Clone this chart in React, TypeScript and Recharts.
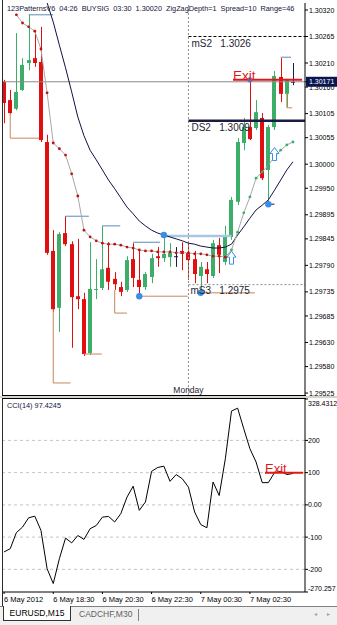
import React from "react";
import {
    ComposedChart,
    Bar,
    Line,
    XAxis,
    YAxis,
    ReferenceLine,
    ReferenceDot,
} from "recharts";

// EURUSD M15, bars from 6 May 16:30 to 7 May 04:15
const opens = [
    1.30171, 1.30133, 1.30115, 1.30154, 1.3021, 1.3022, 1.30212, 1.30046, 1.2982, 1.29702,
    1.29857, 1.29834, 1.29726, 1.2972, 1.29608, 1.29739, 1.29743, 1.29785, 1.29762, 1.29745,
    1.29739, 1.29803, 1.2976, 1.29745, 1.29766, 1.29809, 1.29805, 1.29807, 1.29809, 1.2982,
    1.29816, 1.29803, 1.29768, 1.29782, 1.29768, 1.29832, 1.29797, 1.29849, 1.29922, 1.30044,
    1.30077, 1.30075, 1.30096, 1.29988, 1.30077, 1.30181, 1.30146, 1.30171,
];
const highs = [
    1.30175, 1.30154, 1.30272, 1.3022, 1.3031, 1.30278, 1.30285, 1.30061, 1.29863, 1.29859,
    1.29892, 1.2984, 1.29845, 1.29733, 1.29838, 1.29803, 1.29872, 1.29838, 1.29776, 1.29756,
    1.29809, 1.29836, 1.29822, 1.29776, 1.29814, 1.29828, 1.29853, 1.29836, 1.29828, 1.29838,
    1.29836, 1.2982, 1.29797, 1.29797, 1.29843, 1.29847, 1.29872, 1.29932, 1.30054, 1.30096,
    1.30175, 1.30133, 1.30106, 1.30081, 1.30193, 1.3022, 1.30177, 1.3021,
];
const lows = [
    1.30085, 1.30104, 1.30112, 1.30152, 1.30195, 1.30202, 1.30046, 1.29812, 1.29693, 1.29652,
    1.2983, 1.29619, 1.29699, 1.29602, 1.29604, 1.2972, 1.29739, 1.29739, 1.29739, 1.29726,
    1.29735, 1.29745, 1.29726, 1.29739, 1.29753, 1.29787, 1.29797, 1.29787, 1.29787, 1.2978,
    1.2976, 1.29753, 1.29733, 1.29753, 1.29764, 1.29774, 1.29791, 1.29843, 1.29915, 1.30029,
    1.3005, 1.30071, 1.29967, 1.29917, 1.30071, 1.30129, 1.30119, 1.30164,
];
const closes = [
    1.30127, 1.30106, 1.3015, 1.30206, 1.30216, 1.3021, 1.3005, 1.29816, 1.29699, 1.29855,
    1.29834, 1.29724, 1.2972, 1.29606, 1.29741, 1.29741, 1.29782, 1.29756, 1.29751, 1.29735,
    1.29801, 1.29764, 1.29745, 1.29772, 1.29805, 1.29805, 1.29814, 1.29816, 1.29809, 1.29814,
    1.29801, 1.29772, 1.29787, 1.29772, 1.29836, 1.29812, 1.29849, 1.29926, 1.30046, 1.30077,
    1.30052, 1.30108, 1.29971, 1.30077, 1.30183, 1.30146, 1.30177, 1.30171,
];

// moving average (dark line)
const maValues = [
    null, null, null, null, null, null, 1.30377, 1.30335, 1.30295, 1.30247,
    1.302, 1.3015, 1.30098, 1.30059, 1.30029, 1.30009, 1.29988, 1.29967, 1.29949, 1.2993,
    1.29911, 1.29897, 1.29882, 1.29872, 1.29863, 1.29857, 1.29853, 1.29849, 1.29845, 1.29841,
    1.29836, 1.29834, 1.2983, 1.29828, 1.29826, 1.29826, 1.29828, 1.29834, 1.29853, 1.2987,
    1.29888, 1.29905, 1.29915, 1.29926, 1.29946, 1.29967, 1.29988, 1.30005,
];

// trailing stop line with dots (d = above price, u = below price)
const trailValues = [
    null, null, 1.3031, 1.30293, 1.30285, 1.30276, 1.30239, 1.30148, 1.30044, 1.30032,
    1.30019, 1.2998, 1.29934, 1.29863, 1.29849, 1.29841, 1.29836, 1.29834, 1.29834, 1.29832,
    1.29828, 1.29826, 1.29822, 1.2982, 1.2982, 1.29818, 1.29818, 1.29818, 1.29816, 1.29816,
    1.29816, 1.29814, 1.29814, 1.29812, 1.29809, 1.29809, 1.29807, 1.29822, 1.29859, 1.29899,
    1.29932, 1.29971, 1.29984, 1.29998, 1.30015, 1.30029, 1.3004, 1.30046,
];
const trailSide = "--ddddddddddddddddddddddddddddddddddduuuuuuuuuuu".split("");

// CCI(14)
const cciValues = [
    -146, -136, -86, -69, -40, -35, -79, -198, -244, -167,
    -103, -118, -95, -107, -74, -64, -38, -36, -53, -27,
    24, 58, -17, 9, 104, 116, 120, 73, 94, 81,
    55, -22, -61, -71, 71, 29, 143, 291, 300, 236,
    174, 133, 69, 69, 100, 104, 94, 97.4245,
];

const priceTicks = [
    1.3032, 1.30265, 1.3021, 1.3016, 1.30105, 1.30055, 1.3, 1.2995,
    1.29895, 1.29845, 1.2979, 1.29735, 1.29685, 1.2963, 1.2958, 1.29525,
];
const bidPrice = 1.30171;
const timeTickIdx = [0, 8, 16, 24, 32, 40];
const timeTickText = ["6 May 2012", "6 May 18:30", "6 May 20:30", "6 May 22:30", "7 May 00:30", "7 May 02:30"];
const cciTicks = [328.4312, 200, 100, 0, -100, -200, -270.257];
const cciTickText = ["328.4312", "200", "100", "0.00", "-100", "-200", "-270.257"];
const cciGrid = [200, 100, 0, -100, -200];

// pattern levels
const mondayIdx = 30;
const levelStart = 30;
const mS2 = 1.30265;
const DS2 = 1.3009;
const mS3 = 1.2975;
const exitPrice = 1.30175;
const exitFrom = 37.25;
const exitTo = 48.48;
const exitCci = 100;
const exitCciFrom = 42.45;
const exitCciTo = 48.64;

// zigzag brackets [x1, y1, x2, y2]
const brownSegs = [
    [1, 1.30106, 1, 1.30054], [1, 1.30054, 5.7, 1.30054],
    [8, 1.29699, 8, 1.29546], [8, 1.29546, 10.8, 1.29546],
    [13, 1.29606, 15.9, 1.29606],
    [18, 1.29739, 18, 1.29691], [18, 1.29691, 20, 1.29691],
    [22, 1.29726, 29.9, 1.29726],
    [32, 1.29733, 40.8, 1.29733],
    [46, 1.30146, 46, 1.30117], [46, 1.30117, 46.9, 1.30117],
];
const blueSegs = [
    [4, 1.3031, 8, 1.3031],
    [10, 1.29892, 13.8, 1.29892],
    [16, 1.29872, 18.9, 1.29872],
    [21, 1.29838, 25.4, 1.29838],
    [45, 1.30222, 46.7, 1.30222],
];
const lightBlueSegs = [[26, 1.29851, 37, 1.29851]];
const navySegs = [[43, 1.29917, 44, 1.29917]];
const swingDots = [[22, 1.29726], [26, 1.29853], [32, 1.29733], [43, 1.29917]];
const exitDot = [40, 1.30175];
const buyArrows = [[37, 1.29805], [44, 1.3002]];

const X_DOMAIN = [-0.174, 48.96];
const GREEN = "#3cae6a";
const RED = "#e01010";
const DOJI = "#1a1a50";
const FONT = "'Liberation Sans', Arial, sans-serif";

const rows = opens.map((o, i) => ({
    i,
    o,
    h: highs[i],
    l: lows[i],
    c: closes[i],
    range: [lows[i], highs[i]],
    ma: maValues[i],
    trail: trailValues[i],
    side: trailSide[i],
    cci: cciValues[i],
}));

const Candle = (props: any) => {
    const { x, y, width, height, payload } = props;
    if (x == null || y == null) return <g />;
    const top = Math.min(y, y + height);
    const bot = Math.max(y, y + height);
    const span = payload.h - payload.l;
    const k = span > 0 ? (bot - top) / span : 0;
    const yo = top + (payload.h - payload.o) * k;
    const yc = top + (payload.h - payload.c) * k;
    const cx = Math.round(x + width / 2) + 0.5;
    const color = payload.c > payload.o ? GREEN : payload.c < payload.o ? RED : DOJI;
    const bt = Math.min(yo, yc);
    const bh = Math.max(1, Math.abs(yc - yo));
    return (
        <g>
            <line x1={cx} x2={cx} y1={top} y2={bot} stroke={color} strokeWidth={1} />
            <rect x={cx - 2.5} y={bt} width={4} height={bh} fill={color} />
        </g>
    );
};

const TrailDot = (props: any) => {
    const { cx, cy, payload, index } = props;
    if (payload.trail == null || cx == null || cy == null) return <g key={"td" + index} />;
    return (
        <circle
            key={"td" + index}
            cx={cx}
            cy={cy}
            r={1.4}
            fill={payload.side === "u" ? "#3cae6a" : "#c01010"}
        />
    );
};

const PriceTick = (props: any) => {
    const { x, y, payload } = props;
    const v = payload.value;
    const label = v.toFixed(5);
    if (v === bidPrice) {
        return (
            <g>
                <rect x={x - 3} y={y - 5} width={35} height={10} fill="#0a1650" />
                <text x={x} y={y + 2.6} fontSize={7} fill="#fff">
                    {label}
                </text>
            </g>
        );
    }
    return (
        <text x={x} y={y + 2.6} fontSize={7} fill="#000">
            {label}
        </text>
    );
};

const CciTick = (props: any) => {
    const { x, y, payload } = props;
    const k = cciTicks.indexOf(payload.value);
    let dy = 2.6;
    if (k === 0) dy = 7;
    if (k === cciTicks.length - 1) dy = -1.5;
    return (
        <text x={x - 1} y={y + dy} fontSize={7} fill="#000">
            {cciTickText[k]}
        </text>
    );
};

const TimeTick = (props: any) => {
    const { x, y, payload } = props;
    const k = timeTickIdx.indexOf(payload.value);
    return (
        <text x={x} y={y + 6} fontSize={7.5} fill="#000">
            {timeTickText[k]}
        </text>
    );
};

const UpArrow = (props: any) => {
    const { cx, cy } = props;
    const d = `M${cx} ${cy - 7} L${cx + 4.5} ${cy - 1} L${cx + 2} ${cy - 1} L${cx + 2} ${cy + 6} L${cx - 2} ${cy + 6} L${cx - 2} ${cy - 1} L${cx - 4.5} ${cy - 1} Z`;
    return <path d={d} fill="#ffffff" stroke="#3a8ee6" strokeWidth={1} />;
};

const segLine = (s: number[], key: string, stroke: string, width = 1) => (
    <ReferenceLine
        key={key}
        segment={[{ x: s[0], y: s[1] }, { x: s[2], y: s[3] }]}
        stroke={stroke}
        strokeWidth={width}
        ifOverflow="visible"
    />
);

const levelLabel = { fontSize: 10, fill: "#1e1e32" };

export default function App() {
    return (
        <div
            style={{
                position: "absolute",
                left: 0,
                top: 0,
                width: 337,
                height: 625,
                background: "#fff",
                fontFamily: FONT,
                overflow: "hidden",
            }}
        >
            {/* main price window */}
            <div style={{ position: "absolute", left: 0, top: 0 }}>
                <ComposedChart
                    width={337}
                    height={396}
                    data={rows}
                    margin={{ top: 3, right: 0, bottom: 1, left: 3 }}
                >
                    <XAxis dataKey="i" type="number" domain={X_DOMAIN} allowDataOverflow hide />
                    <YAxis
                        orientation="right"
                        width={32}
                        domain={[1.29521, 1.303345]}
                        allowDataOverflow
                        ticks={[...priceTicks, bidPrice]}
                        interval={0}
                        tick={<PriceTick />}
                        tickSize={3}
                        tickMargin={1}
                        tickLine={{ stroke: "#000" }}
                        axisLine={{ stroke: "#000" }}
                    />
                    <ReferenceLine
                        x={mondayIdx}
                        stroke="#8c8c8c"
                        strokeDasharray="2 2"
                        label={{ value: "Monday", position: "insideBottom", offset: 2, fontSize: 8.5, fill: "#1e1e32" }}
                    />
                    <ReferenceLine y={bidPrice} stroke="#8a8a8a" />
                    <ReferenceLine
                        segment={[{ x: levelStart, y: mS2 }, { x: X_DOMAIN[1], y: mS2 }]}
                        stroke="#000"
                        strokeDasharray="3 2"
                        label={{ value: "mS2\u00a0\u00a0\u00a01.3026", position: "insideTopLeft", offset: 3, ...levelLabel }}
                    />
                    <ReferenceLine
                        segment={[{ x: levelStart, y: DS2 }, { x: X_DOMAIN[1], y: DS2 }]}
                        stroke="#1c1c40"
                        strokeWidth={2.5}
                        label={{ value: "DS2\u00a0\u00a0\u00a01.3009", position: "insideTopLeft", offset: 3, ...levelLabel }}
                    />
                    <ReferenceLine
                        segment={[{ x: levelStart, y: mS3 }, { x: X_DOMAIN[1], y: mS3 }]}
                        stroke="#8c8c8c"
                        strokeDasharray="2 2"
                        label={{ value: "mS3\u00a0\u00a0\u00a01.2975", position: "insideTopLeft", offset: 2, ...levelLabel }}
                    />
                    {brownSegs.map((s, k) => segLine(s, "b" + k, "#c8865e"))}
                    {blueSegs.map((s, k) => segLine(s, "u" + k, "#5a8cb4"))}
                    {lightBlueSegs.map((s, k) => segLine(s, "lb" + k, "#a8c8e2", 2.5))}
                    {navySegs.map((s, k) => segLine(s, "n" + k, "#1a1a50"))}
                    <Bar dataKey="range" barSize={4} shape={<Candle />} isAnimationActive={false} />
                    <Line
                        dataKey="ma"
                        stroke="#121240"
                        strokeWidth={1}
                        dot={false}
                        type="linear"
                        isAnimationActive={false}
                    />
                    <Line
                        dataKey="trail"
                        stroke="#a8a8a8"
                        strokeWidth={1}
                        dot={(p: any) => <TrailDot {...p} />}
                        activeDot={false}
                        type="linear"
                        isAnimationActive={false}
                    />
                    <ReferenceLine
                        segment={[{ x: exitFrom, y: exitPrice }, { x: exitTo, y: exitPrice }]}
                        stroke="#e01818"
                        strokeWidth={2}
                        label={{ value: "Exit", position: "insideBottomLeft", offset: 0, fontSize: 13.5, fill: "#dc1c1c" }}
                    />
                    {swingDots.map((d, k) => (
                        <ReferenceDot key={"sd" + k} x={d[0]} y={d[1]} r={3.2} fill="#3a8ee6" stroke="none" />
                    ))}
                    <ReferenceDot x={exitDot[0]} y={exitDot[1]} r={2.6} fill="#7464a8" stroke="none" />
                    {buyArrows.map((a, k) => (
                        <ReferenceDot key={"ar" + k} x={a[0]} y={a[1]} r={5} shape={(p: any) => <UpArrow {...p} />} />
                    ))}
                </ComposedChart>
            </div>

            {/* indicator header */}
            <div
                style={{
                    position: "absolute",
                    left: 7,
                    top: 4,
                    fontSize: 7.3,
                    lineHeight: "9px",
                    color: "#14143c",
                    whiteSpace: "pre",
                }}
            >
                {"123PatternsV6  04:26  BUYSIG  03:30  1.30020  ZigZagDepth=1  Spread=10  Range=46"}
            </div>

            {/* window frame */}
            <div style={{ position: "absolute", left: 2, top: 0, width: 1, height: 606, background: "#2a2a2a" }} />
            <div style={{ position: "absolute", left: 2, top: 395, width: 304, height: 1, background: "#000" }} />
            <div style={{ position: "absolute", left: 0, top: 396, width: 337, height: 2, background: "#d6d3cc" }} />
            <div style={{ position: "absolute", left: 2, top: 398, width: 304, height: 1, background: "#000" }} />

            {/* CCI window */}
            <div style={{ position: "absolute", left: 0, top: 396 }}>
                <ComposedChart
                    width={337}
                    height={212}
                    data={rows}
                    margin={{ top: 3, right: 0, bottom: 0, left: 3 }}
                >
                    <XAxis
                        dataKey="i"
                        type="number"
                        domain={X_DOMAIN}
                        allowDataOverflow
                        ticks={timeTickIdx}
                        interval={0}
                        height={16}
                        tickSize={2}
                        tickMargin={2}
                        tick={<TimeTick />}
                        axisLine={{ stroke: "#000" }}
                        tickLine={{ stroke: "#000" }}
                    />
                    <YAxis
                        orientation="right"
                        width={32}
                        domain={[-270.257, 328.4312]}
                        allowDataOverflow
                        ticks={cciTicks}
                        interval={0}
                        tick={<CciTick />}
                        tickSize={3}
                        tickMargin={1}
                        tickLine={{ stroke: "#000" }}
                        axisLine={{ stroke: "#000" }}
                    />
                    {cciGrid.map((v) => (
                        <ReferenceLine key={"g" + v} y={v} stroke="#c4c4c4" strokeDasharray="3 3" />
                    ))}
                    <Line
                        dataKey="cci"
                        stroke="#000"
                        strokeWidth={1}
                        dot={false}
                        type="linear"
                        isAnimationActive={false}
                    />
                    <ReferenceLine
                        segment={[{ x: exitCciFrom, y: exitCci }, { x: exitCciTo, y: exitCci }]}
                        stroke="#e01818"
                        strokeWidth={2}
                        label={{ value: "Exit", position: "insideBottomLeft", offset: 0, fontSize: 13, fill: "#dc1c1c" }}
                    />
                </ComposedChart>
            </div>

            <div
                style={{
                    position: "absolute",
                    left: 7,
                    top: 401,
                    fontSize: 7.3,
                    lineHeight: "9px",
                    color: "#14143c",
                    whiteSpace: "pre",
                }}
            >
                {"CCI(14) 97.4245"}
            </div>

            {/* symbol tabs */}
            <div
                style={{
                    position: "absolute",
                    left: 0,
                    top: 606,
                    width: 337,
                    height: 19,
                    background: "#f0f0f0",
                    borderTop: "1px solid #808080",
                }}
            />
            <div
                style={{
                    position: "absolute",
                    left: 3,
                    top: 606,
                    width: 66,
                    height: 14,
                    background: "#fff",
                    border: "1px solid #333",
                    borderTop: "none",
                    fontSize: 8.5,
                    lineHeight: "14px",
                    textAlign: "center",
                    color: "#000",
                }}
            >
                EURUSD,M15
            </div>
            <div style={{ position: "absolute", left: 79, top: 609, fontSize: 8.5, lineHeight: "10px", color: "#606060" }}>
                CADCHF,M30
            </div>
            <div style={{ position: "absolute", left: 138, top: 609, width: 1, height: 12, background: "#808080" }} />
            <div style={{ position: "absolute", left: 314, top: 610, fontSize: 6, lineHeight: "8px", color: "#a0a0a0" }}>
                {"\u25C2"}
            </div>
            <div style={{ position: "absolute", left: 327, top: 610, fontSize: 6, lineHeight: "8px", color: "#a0a0a0" }}>
                {"\u25B8"}
            </div>
        </div>
    );
}
